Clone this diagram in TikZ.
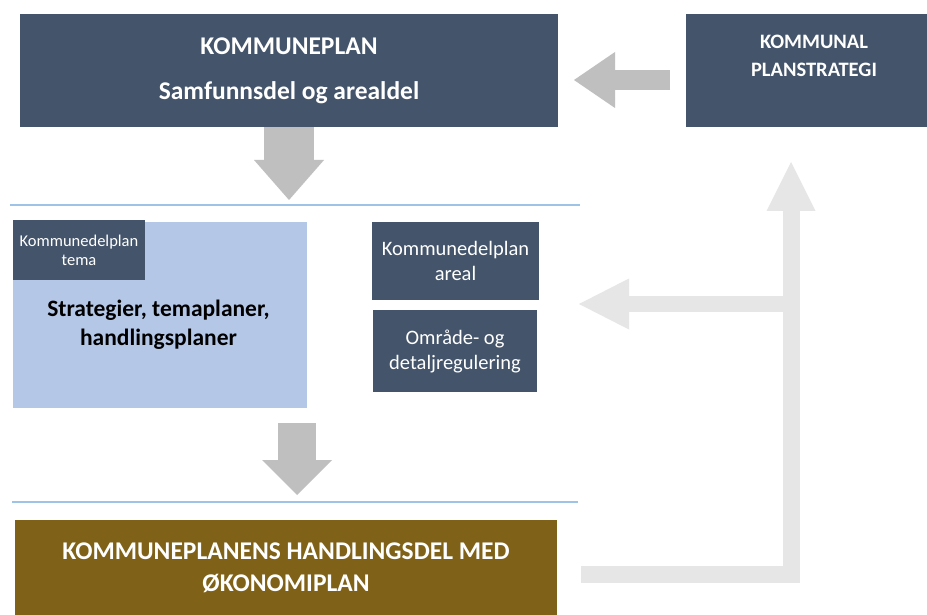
\documentclass[tikz,border=0pt]{standalone}
\usepackage{fontspec}
\setmainfont{Carlito}
\usepackage{tikz}
\usetikzlibrary{arrows.meta}
\definecolor{boks}{HTML}{44546A}
\definecolor{lysbla}{HTML}{B4C7E7}
\definecolor{brun}{HTML}{7F6118}
\definecolor{pil}{HTML}{BFBFBF}
\definecolor{lyspil}{HTML}{E7E6E6}
\definecolor{strek}{HTML}{9DC3E6}
\newcommand{\fs}[2]{\fontsize{#1}{#2}\selectfont}

\begin{document}
\begin{tikzpicture}[x=1pt,y=-1pt,
    boks/.style={fill=boks,text=white,align=center,inner sep=0pt},
    tekst/.style={align=center,inner sep=0pt},
    pil/.style={draw=pil,line width=#1},
    lys/.style={draw=lyspil,line width=17pt,line join=miter},
    skille/.style={draw=strek,line width=1.2pt}]
      \useasboundingbox[fill=white] (0,0) rectangle (927,615);
      \node[boks,minimum width=538pt,minimum height=113pt,font=\fs{25.5}{45}\bfseries] (KP) at (289,70.5)
        {KOMMUNEPLAN\\Samfunnsdel og arealdel};
      \node[boks,minimum width=256pt,minimum height=113pt] (PS) at (814,70.5) {};
      \node[tekst,text=white,font=\fs{20.5}{28}\bfseries] (PStxt) at (814,56) {KOMMUNAL\\PLANSTRATEGI};
      \node[fill=lysbla,minimum width=294pt,minimum height=186pt] (T) at (160,315) {};
      \node[tekst,font=\fs{23.5}{29}\bfseries] (Ttxt) at (158.5,325) {Strategier, temaplaner,\\handlingsplaner};
      \node[boks,minimum width=132pt,minimum height=60pt,font=\fs{16.5}{19}] (TK) at (79,250)
        {Kommunedelplan\\tema};
      \node[boks,minimum width=167pt,minimum height=78pt,font=\fs{20.5}{25}] (KA) at (455.5,261)
        {Kommunedelplan\\areal};
      \node[boks,minimum width=164pt,minimum height=82pt,font=\fs{20.5}{25}] (OD) at (455,351)
        {Område- og\\detaljregulering};
      \node[boks,fill=brun,minimum width=542pt,minimum height=95pt,font=\fs{25.5}{32}\bfseries] (HD) at (286,567.5)
        {KOMMUNEPLANENS HANDLINGSDEL MED\\ØKONOMIPLAN};
      \draw[skille] (10,205) -- (580,205);
      \draw[skille] (12,502) -- (578,502);
      \coordinate (a1) at (KP.south |- 0,200);
      \coordinate (b0) at (297,423);
      \coordinate (b1) at (297,495);
      \coordinate (c0) at (670,80);
      \coordinate (c1) at (574,80);
      \coordinate (d0) at (581,574);
      \coordinate (d1) at (791,162);
      \coordinate (e0) at (791,304);
      \coordinate (e1) at (579,304);
      \draw[pil=50pt,-{Triangle[length=40pt,width=70pt,line width=0pt]}] (KP.south) -- (a1);
      \draw[pil=38pt,-{Triangle[length=35pt,width=70pt,line width=0pt]}] (b0) -- (b1);
      \draw[pil=20pt,-{Triangle[length=41pt,width=56pt,line width=0pt]}] (c0) -- (c1);
      \draw[lys,-{Triangle[length=49pt,width=49pt,line width=0pt]}] (d0) -| (d1);
      \draw[lys,line width=16pt,-{Triangle[length=50pt,width=51pt,line width=0pt]}] (e0) -- (e1);
    \end{tikzpicture}
\end{document}
